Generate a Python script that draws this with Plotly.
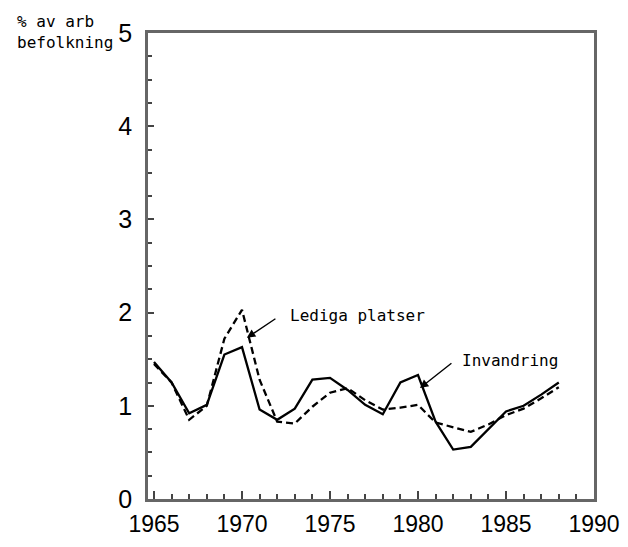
import plotly.graph_objects as go

# Årtal och serier (% av arbetsför befolkning)
years = list(range(1965, 1989))
invandring = [1.47, 1.25, 0.92, 1.01, 1.55, 1.63, 0.96, 0.85, 0.97, 1.28, 1.30, 1.17,
              1.01, 0.91, 1.25, 1.33, 0.83, 0.53, 0.56, 0.75, 0.94, 1.00, 1.12, 1.25]
lediga_platser = [1.45, 1.25, 0.85, 1.00, 1.72, 2.03, 1.28, 0.83, 0.81, 0.99, 1.14, 1.19,
                  1.06, 0.96, 0.98, 1.01, 0.82, 0.77, 0.72, 0.80, 0.90, 0.97, 1.08, 1.20]

x_ticks = [1965, 1970, 1975, 1980, 1985, 1990]
y_ticks = [0, 1, 2, 3, 4, 5]

mono = "DejaVu Sans Mono, monospace"
sans = "Liberation Sans, Arial, sans-serif"

fig = go.Figure()

fig.add_trace(go.Scatter(
    x=years, y=lediga_platser, mode="lines", name="Lediga platser",
    line=dict(color="black", width=2.3, dash="7px,4px"),
))
fig.add_trace(go.Scatter(
    x=years, y=invandring, mode="lines", name="Invandring",
    line=dict(color="black", width=2.3),
))

# Etiketter med pilar
fig.add_annotation(x=1970.28, y=1.73, xref="x", yref="y", text="",
                   ax=30, ay=-20, showarrow=True,
                   arrowhead=2, arrowsize=1.2, arrowwidth=1.4, arrowcolor="black")
fig.add_annotation(x=1972.6, y=1.97, xref="x", yref="y", text="Lediga platser",
                   showarrow=False, xanchor="left",
                   font=dict(family=mono, size=16, color="black"))
fig.add_annotation(x=1980.11, y=1.19, xref="x", yref="y", text="",
                   ax=33, ay=-26, showarrow=True,
                   arrowhead=2, arrowsize=1.2, arrowwidth=1.4, arrowcolor="black")
fig.add_annotation(x=1982.4, y=1.49, xref="x", yref="y", text="Invandring",
                   showarrow=False, xanchor="left",
                   font=dict(family=mono, size=16, color="black"))

# Y-axelns rubrik
fig.add_annotation(x=0, y=1, xref="paper", yref="paper", xanchor="left", yanchor="top",
                   text="% av arb<br>befolkning", showarrow=False, align="left",
                   font=dict(family=mono, size=16, color="black"),
                   xshift=-133, yshift=23)

fig.update_layout(
    width=612, height=531,
    margin=dict(l=140, r=26, t=25, b=40),
    paper_bgcolor="white", plot_bgcolor="white",
    showlegend=False,
)

fig.update_xaxes(
    range=[1964.66, 1990], tickvals=x_ticks, ticktext=[str(v) for v in x_ticks],
    ticks="inside", ticklen=8, tickwidth=1.5, tickcolor="#444",
    minor=dict(dtick=1, ticks="inside", ticklen=5, tickcolor="#444", tick0=1965),
    showline=True, linecolor="#666", linewidth=2.5, mirror=True,
    showgrid=False, zeroline=False, automargin=False,
    tickfont=dict(family=sans, size=23, color="black"),
    ticklabelstandoff=3, ticklabeloverflow="allow",
)
fig.update_yaxes(
    range=[0, 5], tickvals=y_ticks, ticktext=[str(v) for v in y_ticks],
    ticks="inside", ticklen=6, tickwidth=1.5, tickcolor="#444",
    minor=dict(dtick=0.25, ticks="inside", ticklen=4, tickcolor="#444"),
    showline=True, linecolor="#666", linewidth=2.5, mirror=True,
    showgrid=False, zeroline=False, automargin=False,
    tickfont=dict(family=sans, size=25, color="black"),
    ticklabelstandoff=8,
)

fig.write_html("out.html")
